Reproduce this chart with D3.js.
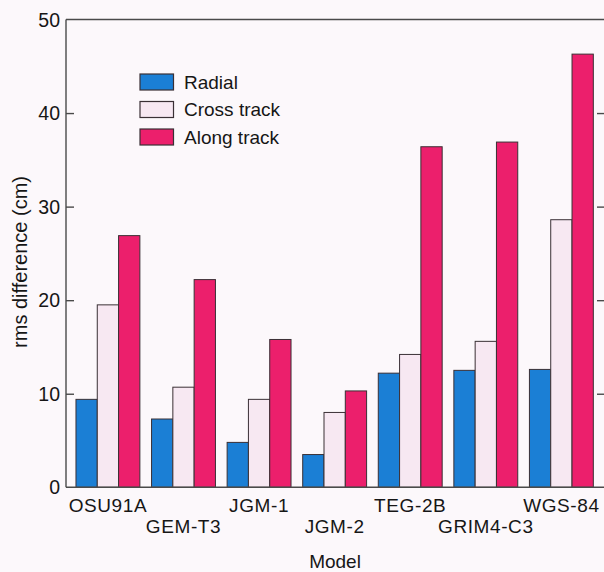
<!DOCTYPE html>
<html>
<head>
<meta charset="utf-8">
<script src="https://cdn.jsdelivr.net/npm/d3@7/dist/d3.min.js"></script>
<style>
  html, body { margin: 0; padding: 0; background: #fcf8fb; }
  svg { display: block; }
  text { font-family: "Liberation Sans", Arial, Helvetica, sans-serif; fill: #161616; }
</style>
</head>
<body>
<svg id="chart" width="604" height="572"></svg>
<script>
// Gravity models compared, rms orbit differences in cm
const models = ["OSU91A", "GEM-T3", "JGM-1", "JGM-2", "TEG-2B", "GRIM4-C3", "WGS-84"];
const seriesNames = ["Radial", "Cross track", "Along track"];
const radial     = [9.4, 7.3, 4.8, 3.5, 12.2, 12.5, 12.6];
const crossTrack = [19.5, 10.7, 9.4, 8.0, 14.2, 15.6, 28.6];
const alongTrack = [26.9, 22.2, 15.8, 10.3, 36.4, 36.9, 46.3];
const yTicks = [0, 10, 20, 30, 40, 50];

const seriesValues = [radial, crossTrack, alongTrack];
const colors = ["#1b7fd5", "#f7e8f2", "#ec1f6c"];

const svg = d3.select("#chart");
const plotLeft = 66, plotRight = 605, plotTop = 19.5, plotBottom = 487.3;

const x = d3.scaleBand()
  .domain(models)
  .range([plotLeft, 603.3])
  .paddingInner(0.1546)
  .paddingOuter(0.132);

const xInner = d3.scaleBand()
  .domain(seriesNames)
  .range([0, x.bandwidth()]);

const y = d3.scaleLinear().domain([0, 50]).range([plotBottom, plotTop]);

// Bars
const groups = svg.append("g").selectAll("g")
  .data(models)
  .join("g")
  .attr("transform", d => `translate(${x(d)},0)`);

groups.selectAll("rect")
  .data((m, i) => seriesNames.map((s, k) => ({ s, k, v: seriesValues[k][i] })))
  .join("rect")
  .attr("x", d => xInner(d.s))
  .attr("y", d => y(d.v))
  .attr("width", xInner.bandwidth())
  .attr("height", d => y(0) - y(d.v))
  .attr("fill", d => colors[d.k])
  .attr("stroke", "#3a3035")
  .attr("stroke-width", 1);

// Frame: left axis, top line, bottom line, right axis
const frame = svg.append("g").attr("stroke", "#4a4a4a").attr("stroke-width", 1.4).attr("fill", "none");
frame.append("line").attr("x1", plotLeft).attr("x2", plotLeft).attr("y1", plotTop).attr("y2", plotBottom);
frame.append("line").attr("x1", plotLeft).attr("x2", plotRight).attr("y1", plotTop).attr("y2", plotTop);
frame.append("line").attr("x1", plotLeft).attr("x2", plotRight).attr("y1", plotBottom).attr("y2", plotBottom);
frame.append("line").attr("x1", plotRight).attr("x2", plotRight).attr("y1", plotTop).attr("y2", plotBottom);

// Left axis with inward ticks
const yAxisL = d3.axisRight(y).tickValues(yTicks.slice(1, -1)).tickSize(8).tickFormat("");
const gL = svg.append("g").attr("transform", `translate(${plotLeft},0)`).call(yAxisL);
gL.select(".domain").remove();
gL.selectAll("line").attr("stroke", "#4a4a4a").attr("stroke-width", 1.4);

// Right axis with inward ticks
const yAxisR = d3.axisLeft(y).tickValues(yTicks.slice(1, -1)).tickSize(8).tickFormat("");
const gR = svg.append("g").attr("transform", `translate(${plotRight},0)`).call(yAxisR);
gR.select(".domain").remove();
gR.selectAll("line").attr("stroke", "#4a4a4a").attr("stroke-width", 1.4);

// Tick labels
svg.append("g").selectAll("text")
  .data(yTicks)
  .join("text")
  .attr("x", plotLeft - 6)
  .attr("y", d => y(d))
  .attr("dy", "0.36em")
  .attr("text-anchor", "end")
  .attr("font-size", 19.5)
  .text(d => d);

// Category labels, staggered on two rows
svg.append("g").selectAll("text")
  .data(models)
  .join("text")
  .attr("x", d => x(d) + x.bandwidth() / 2)
  .attr("y", (d, i) => i % 2 === 0 ? 511.7 : 533.3)
  .attr("text-anchor", "middle")
  .attr("font-size", 19)
  .attr("letter-spacing", 0.6)
  .text(d => d);

// Axis titles
svg.append("text")
  .attr("x", 335)
  .attr("y", 568)
  .attr("text-anchor", "middle")
  .attr("font-size", 19)
  .text("Model");

svg.append("text")
  .attr("transform", "translate(27,262) rotate(-90)")
  .attr("text-anchor", "middle")
  .attr("font-size", 20)
  .text("rms difference (cm)");

// Legend
const legend = svg.append("g").selectAll("g")
  .data(seriesNames)
  .join("g")
  .attr("transform", (d, i) => `translate(140,${74 + i * 27.5})`);
legend.append("rect")
  .attr("width", 33.5)
  .attr("height", 16)
  .attr("fill", (d, i) => colors[i])
  .attr("stroke", "#3a3035")
  .attr("stroke-width", 1.2);
legend.append("text")
  .attr("x", 44)
  .attr("y", 8)
  .attr("dy", "0.36em")
  .attr("font-size", 19)
  .text(d => d);
</script>
</body>
</html>
